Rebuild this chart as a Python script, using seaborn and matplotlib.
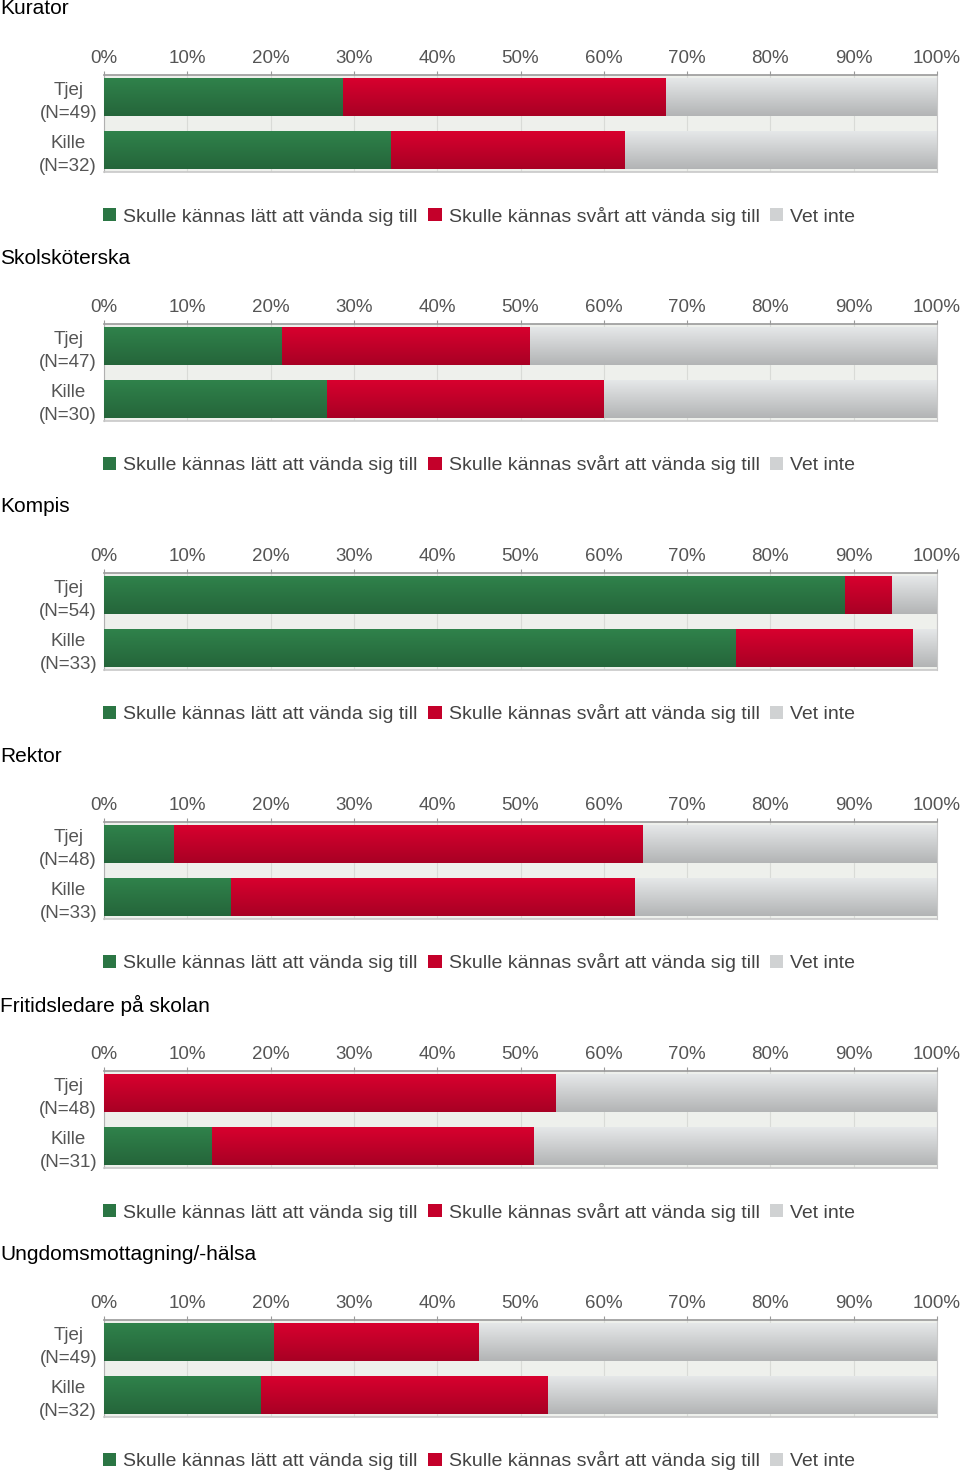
import numpy as np
import pandas as pd
import matplotlib
matplotlib.use("Agg")
import matplotlib.pyplot as plt
from matplotlib.patches import Patch
from matplotlib.colors import to_rgb
import seaborn as sns

# data (percent of each group)
titles = ["Kurator", "Skolsköterska", "Kompis", "Rektor",
          "Fritidsledare på skolan", "Ungdomsmottagning/-hälsa"]
groups = [["Tjej\n(N=49)", "Kille\n(N=32)"],
          ["Tjej\n(N=47)", "Kille\n(N=30)"],
          ["Tjej\n(N=54)", "Kille\n(N=33)"],
          ["Tjej\n(N=48)", "Kille\n(N=33)"],
          ["Tjej\n(N=48)", "Kille\n(N=31)"],
          ["Tjej\n(N=49)", "Kille\n(N=32)"]]
latt = [[28.6, 34.4], [21.3, 26.7], [88.9, 75.8], [8.3, 15.2], [0.0, 12.9], [20.4, 18.8]]
svart = [[38.8, 28.1], [29.8, 33.3], [5.6, 21.2], [56.3, 48.5], [54.2, 38.7], [24.5, 34.4]]
vet_inte = [[32.7, 37.5], [48.9, 40.0], [5.6, 3.0], [35.4, 36.4], [45.8, 48.4], [55.1, 46.9]]
legend_labels = ["Skulle kännas lätt att vända sig till",
                 "Skulle kännas svårt att vända sig till", "Vet inte"]
ticks = list(range(0, 101, 10))
tick_labels = [f"{t}%" for t in ticks]

colors = ["#2b7644", "#c4002a", "#d0d2d3"]

sns.set_theme(style="white")
plt.rcParams["font.family"] = ["Liberation Sans", "DejaVu Sans"]

W, H = 960, 1473
fig = plt.figure(figsize=(W / 100, H / 100), dpi=100)
fig.patch.set_facecolor("white")


def gradient_bar(ax, bar):
    # vertical shading like the original chart
    w = bar.get_width()
    if w <= 0:
        return
    x0, y0, h = bar.get_x(), bar.get_y(), bar.get_height()
    base = np.array(to_rgb(bar.get_facecolor()))
    f = np.linspace(1.10, 0.86, 30)
    arr = np.clip(base[None, :] * f[:, None], 0, 1)[:, None, :]
    ax.imshow(arr, extent=[x0, x0 + w, y0 + h, y0], aspect="auto",
              interpolation="bilinear", zorder=bar.get_zorder() + 0.5)


for i, title in enumerate(titles):
    top = 249 * i
    ax = fig.add_axes([104 / W, 1 - (172 + top) / H, 833 / W, 97 / H])
    ax.set_facecolor("#eef0ec")

    df = pd.DataFrame({
        "grupp": groups[i],
        "latt": latt[i],
        "svart": svart[i],
        "vet": vet_inte[i],
    })
    df["c1"] = df["latt"]
    df["c2"] = df["latt"] + df["svart"]
    df["c3"] = df["c2"] + df["vet"]

    # draw cumulative layers, longest first
    sns.barplot(data=df, x="c3", y="grupp", color=colors[2], width=0.7,
                saturation=1, linewidth=0, zorder=2, ax=ax)
    sns.barplot(data=df, x="c2", y="grupp", color=colors[1], width=0.7,
                saturation=1, linewidth=0, zorder=3, ax=ax)
    sns.barplot(data=df, x="c1", y="grupp", color=colors[0], width=0.7,
                saturation=1, linewidth=0, zorder=4, ax=ax)
    for bar in list(ax.patches):
        gradient_bar(ax, bar)

    ax.set_xlim(0, 100)
    ax.set_ylim(1.41, -0.425)
    ax.set_xlabel("")
    ax.set_ylabel("")
    ax.xaxis.tick_top()
    ax.set_xticks(ticks)
    ax.set_xticklabels(tick_labels)
    ax.tick_params(axis="x", top=True, bottom=False, length=3, width=0.8,
                   color="#999999", pad=2.5, labelsize=13.5, labelcolor="#555555")
    ax.tick_params(axis="y", left=False, length=0, pad=5, labelsize=13.5,
                   labelcolor="#555555")
    for lab in ax.get_yticklabels():
        lab.set_multialignment("center")
        lab.set_linespacing(1.4)
    ax.grid(axis="x", color="#d9dbd7", linewidth=0.8, zorder=1)
    ax.set_axisbelow(True)
    for side, col in [("top", "#9a9a9a"), ("left", "#b0b0b0"),
                      ("bottom", "#c8c8c8"), ("right", "#c8c8c8")]:
        ax.spines[side].set_visible(True)
        ax.spines[side].set_color(col)
        ax.spines[side].set_linewidth(1.2 if side in ("top", "bottom") else 0.8)

    fig.text(0, 1 - (9 + top) / H, title, fontsize=15, color="black",
             ha="left", va="center")

    handles = [Patch(facecolor=c, edgecolor="none") for c in colors]
    fig.legend(handles, legend_labels, loc="center left",
               bbox_to_anchor=(103 / W, 1 - (216 + top) / H), ncol=3,
               frameon=False, fontsize=14, labelcolor="#444444",
               handlelength=0.68, handleheight=0.68, handletextpad=0.36,
               columnspacing=0.55, borderpad=0, borderaxespad=0)

fig.savefig("out.png", dpi=100)
